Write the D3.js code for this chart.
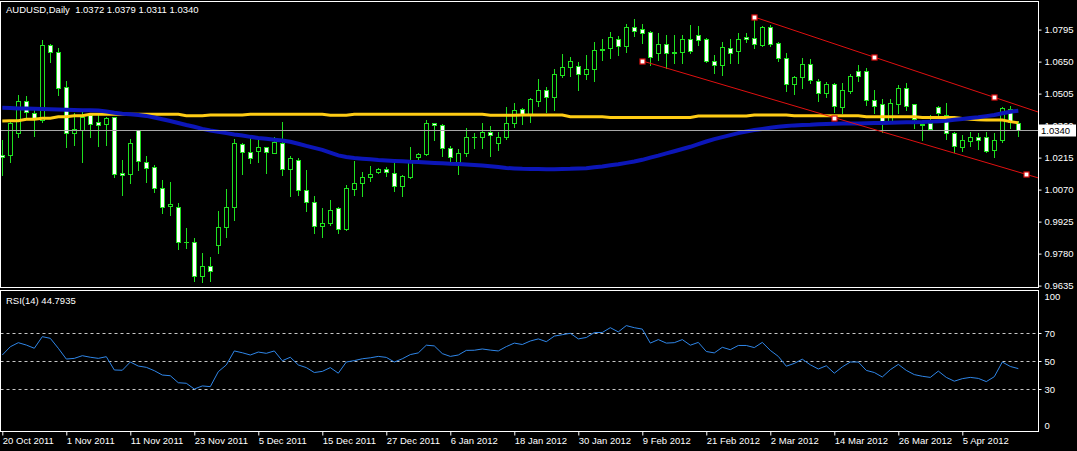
<!DOCTYPE html>
<html><head><meta charset="utf-8">
<script src="https://cdn.jsdelivr.net/npm/d3@7"></script>
<style>
html,body{margin:0;padding:0;background:#000;}
svg{display:block;}
text{font-family:"Liberation Sans",Arial,sans-serif;font-size:9.5px;fill:#fff;}
</style>
</head><body>
<svg id="chart" width="1077" height="451"></svg>
<script>
// ---------------- data ----------------
const symbolTitle = "AUDUSD,Daily  1.0372 1.0379 1.0311 1.0340";
const rsiTitle = "RSI(14) 44.7935";

const openP = [1.0227,1.0227,1.0327,1.0471,1.0417,1.0385,1.0725,1.0694,1.0535,1.0327,
1.0340,1.0408,1.0376,1.0367,1.0399,1.0145,1.0141,1.0340,1.0195,1.0172,
1.0077,0.9996,0.9991,0.9832,0.9832,0.9678,0.9724,0.9819,0.9900,0.9991,
1.0277,1.0240,1.0245,1.0263,1.0236,1.0281,1.0163,1.0204,1.0068,1.0014,
0.9905,0.9919,0.9987,0.9891,1.0073,1.0100,1.0127,1.0150,1.0163,1.0145,
1.0086,1.0127,1.0218,1.0231,1.0372,1.0363,1.0259,1.0195,1.0236,1.0308,
1.0308,1.0331,1.0281,1.0308,1.0372,1.0435,1.0408,1.0471,1.0521,1.0490,
1.0589,1.0626,1.0630,1.0594,1.0616,1.0703,1.0712,1.0752,1.0721,1.0807,
1.0798,1.0784,1.0689,1.0730,1.0689,1.0694,1.0752,1.0771,1.0752,1.0653,
1.0635,1.0712,1.0698,1.0762,1.0757,1.0725,1.0807,1.0734,1.0666,1.0548,
1.0580,1.0639,1.0562,1.0508,1.0548,1.0444,1.0517,1.0607,1.0607,1.0476,
1.0458,1.0381,1.0458,1.0530,1.0458,1.0367,1.0372,1.0444,1.0408,1.0327,
1.0263,1.0290,1.0308,1.0308,1.0250,1.0295,1.0435,1.0372];

const highP = [1.0295,1.0376,1.0499,1.0494,1.0431,1.0748,1.0730,1.0712,1.0562,1.0417,
1.0431,1.0410,1.0408,1.0399,1.0401,1.0204,1.0299,1.0342,1.0222,1.0182,
1.0114,1.0104,1.0009,0.9896,0.9851,0.9783,0.9764,0.9973,1.0073,1.0299,
1.0281,1.0317,1.0295,1.0265,1.0308,1.0376,1.0222,1.0213,1.0159,1.0041,
0.9987,1.0023,0.9989,1.0091,1.0200,1.0150,1.0177,1.0168,1.0172,1.0191,
1.0136,1.0263,1.0236,1.0385,1.0374,1.0365,1.0268,1.0254,1.0349,1.0327,
1.0372,1.0358,1.0331,1.0444,1.0462,1.0440,1.0485,1.0571,1.0535,1.0616,
1.0684,1.0671,1.0648,1.0680,1.0739,1.0752,1.0784,1.0766,1.0820,1.0843,
1.0820,1.0789,1.0780,1.0771,1.0771,1.0771,1.0816,1.0811,1.0757,1.0680,
1.0739,1.0752,1.0780,1.0780,1.0852,1.0811,1.0816,1.0739,1.0689,1.0585,
1.0666,1.0662,1.0571,1.0558,1.0553,1.0553,1.0594,1.0635,1.0621,1.0521,
1.0481,1.0481,1.0544,1.0553,1.0460,1.0372,1.0408,1.0449,1.0462,1.0331,
1.0317,1.0331,1.0327,1.0331,1.0327,1.0444,1.0449,1.0379];

const lowP = [1.0136,1.0195,1.0308,1.0399,1.0313,1.0376,1.0648,1.0499,1.0263,1.0272,
1.0195,1.0308,1.0268,1.0272,1.0127,1.0045,1.0100,1.0159,1.0104,1.0059,
0.9964,0.9955,0.9801,0.9805,0.9656,0.9651,0.9656,0.9783,0.9855,0.9932,
1.0141,1.0191,1.0195,1.0145,1.0234,1.0136,1.0041,1.0045,0.9973,0.9873,
0.9855,0.9910,0.9873,0.9887,1.0045,1.0041,1.0110,1.0145,1.0132,1.0064,
1.0041,1.0123,1.0195,1.0227,1.0295,1.0222,1.0195,1.0141,1.0222,1.0259,
1.0259,1.0222,1.0250,1.0299,1.0354,1.0367,1.0376,1.0449,1.0422,1.0431,
1.0580,1.0585,1.0521,1.0571,1.0562,1.0657,1.0666,1.0680,1.0694,1.0766,
1.0734,1.0635,1.0657,1.0621,1.0644,1.0644,1.0689,1.0725,1.0648,1.0598,
1.0589,1.0644,1.0644,1.0739,1.0712,1.0721,1.0721,1.0653,1.0517,1.0503,
1.0530,1.0553,1.0471,1.0490,1.0422,1.0417,1.0508,1.0562,1.0453,1.0417,
1.0331,1.0376,1.0417,1.0431,1.0349,1.0295,1.0340,1.0399,1.0299,1.0240,
1.0245,1.0268,1.0254,1.0240,1.0218,1.0286,1.0349,1.0311];

const closeP = [1.0218,1.0372,1.0471,1.0422,1.0394,1.0725,1.0694,1.0530,1.0327,1.0345,
1.0399,1.0367,1.0363,1.0394,1.0141,1.0136,1.0281,1.0200,1.0168,1.0077,
0.9991,1.0005,0.9832,0.9834,0.9678,0.9724,0.9701,0.9900,0.9991,1.0281,
1.0240,1.0213,1.0263,1.0240,1.0286,1.0163,1.0213,1.0068,1.0014,0.9905,
0.9919,0.9978,0.9891,1.0077,1.0100,1.0127,1.0141,1.0163,1.0150,1.0086,
1.0132,1.0200,1.0231,1.0372,1.0363,1.0259,1.0218,1.0236,1.0308,1.0310,
1.0331,1.0317,1.0308,1.0372,1.0431,1.0413,1.0481,1.0521,1.0490,1.0594,
1.0626,1.0653,1.0594,1.0616,1.0703,1.0707,1.0762,1.0721,1.0807,1.0789,
1.0780,1.0671,1.0730,1.0689,1.0694,1.0752,1.0698,1.0748,1.0653,1.0635,
1.0716,1.0689,1.0752,1.0752,1.0730,1.0807,1.0730,1.0666,1.0548,1.0580,
1.0639,1.0567,1.0508,1.0548,1.0449,1.0521,1.0585,1.0585,1.0476,1.0449,
1.0381,1.0462,1.0530,1.0449,1.0390,1.0363,1.0345,1.0417,1.0327,1.0268,
1.0295,1.0308,1.0295,1.0245,1.0295,1.0440,1.0376,1.0340];

// slow moving average (yellow)
const maYellow = [1.0381,1.0382,1.0382,1.0389,1.0389,1.0393,1.0393,1.0400,1.0400,1.0405,
1.0405,1.0411,1.0411,1.0411,1.0411,1.0411,1.0411,1.0411,1.0411,1.0411,
1.0411,1.0411,1.0411,1.0405,1.0405,1.0405,1.0408,1.0408,1.0408,1.0408,
1.0408,1.0411,1.0411,1.0411,1.0411,1.0411,1.0411,1.0411,1.0411,1.0411,
1.0411,1.0407,1.0407,1.0407,1.0411,1.0411,1.0411,1.0411,1.0411,1.0411,
1.0411,1.0411,1.0411,1.0411,1.0411,1.0411,1.0411,1.0411,1.0411,1.0411,
1.0411,1.0407,1.0407,1.0407,1.0407,1.0408,1.0408,1.0408,1.0408,1.0408,
1.0408,1.0400,1.0400,1.0400,1.0400,1.0400,1.0397,1.0397,1.0397,1.0397,
1.0397,1.0397,1.0397,1.0397,1.0397,1.0397,1.0397,1.0403,1.0403,1.0403,
1.0403,1.0403,1.0403,1.0403,1.0408,1.0408,1.0408,1.0408,1.0408,1.0405,
1.0405,1.0405,1.0405,1.0405,1.0405,1.0405,1.0405,1.0405,1.0400,1.0400,
1.0400,1.0400,1.0400,1.0400,1.0400,1.0397,1.0397,1.0397,1.0397,1.0397,
1.0392,1.0389,1.0387,1.0385,1.0385,1.0385,1.0378,1.0373];

// faster moving average (blue)
const maBlue = [1.0441,1.0440,1.0438,1.0437,1.0436,1.0435,1.0434,1.0433,1.0432,1.0431,
1.0430,1.0429,1.0428,1.0424,1.0418,1.0414,1.0411,1.0408,1.0404,1.0397,
1.0389,1.0381,1.0372,1.0363,1.0355,1.0345,1.0338,1.0332,1.0326,1.0320,
1.0315,1.0309,1.0304,1.0300,1.0296,1.0292,1.0287,1.0278,1.0268,1.0259,
1.0250,1.0238,1.0225,1.0218,1.0213,1.0210,1.0207,1.0204,1.0202,1.0200,
1.0198,1.0196,1.0195,1.0193,1.0191,1.0189,1.0187,1.0186,1.0184,1.0182,
1.0179,1.0176,1.0172,1.0168,1.0166,1.0164,1.0163,1.0163,1.0162,1.0162,
1.0163,1.0164,1.0166,1.0167,1.0171,1.0175,1.0180,1.0185,1.0191,1.0197,
1.0205,1.0215,1.0224,1.0234,1.0244,1.0254,1.0264,1.0276,1.0288,1.0299,
1.0308,1.0317,1.0326,1.0333,1.0340,1.0345,1.0350,1.0355,1.0358,1.0361,
1.0363,1.0364,1.0366,1.0367,1.0368,1.0369,1.0369,1.0370,1.0371,1.0372,
1.0372,1.0373,1.0374,1.0375,1.0375,1.0376,1.0378,1.0380,1.0382,1.0386,
1.0390,1.0394,1.0398,1.0403,1.0408,1.0416,1.0423,1.0427];

const rsiValues = [54.5,60.4,63.3,61.6,59.3,67.6,66.4,59.3,51.6,52.1,
54.0,52.9,52.1,53.3,43.8,43.6,49.5,46.6,45.7,43.3,
40.2,39.7,34.7,34.3,30.2,32.4,31.9,42.6,47.4,57.4,
56.1,54.5,56.6,55.7,57.4,50.4,52.9,47.4,45.5,42.0,
42.8,45.5,41.5,49.5,50.5,51.8,52.5,53.5,52.8,49.5,
51.8,54.8,56.0,61.5,61.0,55.5,53.5,54.5,57.8,57.9,
58.8,58.0,57.4,60.5,63.0,62.0,64.5,66.0,64.0,68.0,
69.0,70.0,66.0,67.0,70.5,70.6,74.0,71.0,75.5,74.0,
73.0,63.0,65.5,63.0,63.3,65.5,61.5,63.5,57.0,56.0,
60.0,58.3,61.3,61.3,59.8,63.5,57.8,53.5,46.5,48.5,
51.5,47.5,44.5,46.8,41.5,46.0,49.5,49.5,43.5,42.0,
38.8,44.0,47.8,43.5,40.5,39.3,38.5,43.0,38.5,35.8,
37.6,38.5,37.8,35.5,39.0,49.5,46.3,44.79];

const priceTicks = [1.0795,1.0650,1.0505,1.0360,1.0215,1.0070,0.9925,0.9780,0.9635];
const rsiLevels = [70,50,30];
const rsiScaleLabels = [100,70,50,30,0];
const dateTickBars = [0,8,16,24,32,40,48,56,64,72,80,88,96,104,112,120];
const dateLabels = ["20 Oct 2011","1 Nov 2011","11 Nov 2011","23 Nov 2011","5 Dec 2011","15 Dec 2011",
"27 Dec 2011","6 Jan 2012","18 Jan 2012","30 Jan 2012","9 Feb 2012","21 Feb 2012","2 Mar 2012",
"14 Mar 2012","26 Mar 2012","5 Apr 2012"];
const bidPrice = 1.0340;
// trend channel drawn on the chart: [bar, price] anchors and marker bars
const upperChannel = [[94,1.0852],[124,1.0488]];
const upperMarkerBars = [94,109,124];
const lowerChannel = [[80,1.0653],[128,1.0139]];
const lowerMarkerBars = [80,104,128];

// ---------------- layout ----------------
const W = 1077, H = 451;
const plotLeft = 0.5, plotRight = 1038.5;
const mainTop = 1.5, mainBottom = 287.5;
const rsiTop = 290.5, rsiBottom = 431.5;

const svg = d3.select("#chart");
svg.append("rect").attr("width",W).attr("height",H).attr("fill","#000");

const nBars = closeP.length;
const x = d3.scaleLinear().domain([0, nBars-1]).range([2.3, 2.3 + 8*(nBars-1)]);
const yMain = d3.scaleLinear().domain([0.9635, 1.0795]).range([285.6, 29.6]);
const yRsi = d3.scaleLinear().domain([0,100]).range([431.3, 291.3]);
const barRight = x.invert(plotRight);

const defs = svg.append("defs");
defs.append("clipPath").attr("id","clipMain").append("rect")
  .attr("x",plotLeft+0.5).attr("y",mainTop+0.5).attr("width",plotRight-plotLeft-1).attr("height",mainBottom-mainTop-1);
defs.append("clipPath").attr("id","clipRsi").append("rect")
  .attr("x",plotLeft+0.5).attr("y",rsiTop+0.5).attr("width",plotRight-plotLeft-1).attr("height",rsiBottom-rsiTop-1);

const gMain = svg.append("g").attr("clip-path","url(#clipMain)");
const candleColor = "#1fe01f";

// candles
const bars = d3.range(nBars).map(i => ({i, o:openP[i], h:highP[i], l:lowP[i], c:closeP[i]}));
const gC = gMain.append("g");
bars.forEach(b => {
  const cx = Math.round(x(b.i));
  gC.append("line")
    .attr("x1",cx+0.5).attr("x2",cx+0.5)
    .attr("y1",Math.round(yMain(b.h))).attr("y2",Math.round(yMain(b.l))+1)
    .attr("stroke",candleColor).attr("stroke-width",1);
  const top = Math.round(yMain(Math.max(b.o,b.c)));
  const bot = Math.round(yMain(Math.min(b.o,b.c)));
  const bull = b.c >= b.o;
  if (bot - top < 1) {
    gC.append("line").attr("x1",cx-2).attr("x2",cx+3)
      .attr("y1",top+0.5).attr("y2",top+0.5)
      .attr("stroke",candleColor).attr("stroke-width",1);
  } else {
    gC.append("rect").attr("x",cx-2+0.5).attr("y",top+0.5)
      .attr("width",4).attr("height",bot-top)
      .attr("fill", bull ? "#000" : "#fff")
      .attr("stroke",candleColor).attr("stroke-width",1);
  }
});

// moving averages
const lineGen = d3.line().x((d,i)=>x(i)).y(d=>yMain(d));
gMain.append("path").datum(maYellow).attr("d",lineGen)
  .attr("fill","none").attr("stroke","#ffcc14").attr("stroke-width",3);
gMain.append("path").datum(maBlue).attr("d",lineGen)
  .attr("fill","none").attr("stroke","#0c16b8").attr("stroke-width",4);

// bid line
gMain.append("line").attr("x1",plotLeft).attr("x2",plotRight)
  .attr("y1",Math.round(yMain(bidPrice))+0.5).attr("y2",Math.round(yMain(bidPrice))+0.5)
  .attr("stroke","#a8a8a8").attr("stroke-width",1);

// channel lines
function chanVal(ch, bar){
  const [b0,p0] = ch[0], [b1,p1] = ch[1];
  return p0 + (bar-b0)*(p1-p0)/(b1-b0);
}
[[upperChannel,upperMarkerBars],[lowerChannel,lowerMarkerBars]].forEach(([ch,mk]) => {
  const b0 = ch[0][0];
  gMain.append("line")
    .attr("x1",x(b0)).attr("y1",yMain(chanVal(ch,b0)))
    .attr("x2",x(barRight)).attr("y2",yMain(chanVal(ch,barRight)))
    .attr("stroke","#e01010").attr("stroke-width",1);
  mk.forEach(bm => {
    gMain.append("rect")
      .attr("x",Math.round(x(bm))-2).attr("y",Math.round(yMain(chanVal(ch,bm)))-2)
      .attr("width",5).attr("height",5)
      .attr("fill","#fff").attr("stroke","#e01010").attr("stroke-width",1.2);
  });
});

// panel borders
svg.append("rect").attr("x",plotLeft).attr("y",mainTop)
  .attr("width",plotRight-plotLeft).attr("height",mainBottom-mainTop)
  .attr("fill","none").attr("stroke","#fff").attr("stroke-width",1);
svg.append("rect").attr("x",plotLeft).attr("y",rsiTop)
  .attr("width",plotRight-plotLeft).attr("height",rsiBottom-rsiTop)
  .attr("fill","none").attr("stroke","#fff").attr("stroke-width",1);

// right price axis
const axP = svg.append("g").attr("transform",`translate(${plotRight},0)`)
  .call(d3.axisRight(yMain).tickValues(priceTicks).tickFormat(d3.format(".4f")).tickSize(3).tickPadding(3));
axP.select(".domain").remove();
axP.selectAll(".tick line").attr("stroke","#fff");
axP.selectAll(".tick text").attr("fill","#fff").style("font-size","9.5px").attr("font-family",null);

// bid price label
const bidY = Math.round(yMain(bidPrice));
svg.append("rect").attr("x",1039).attr("y",bidY-5.5).attr("width",37).attr("height",12)
  .attr("fill","#fff");
svg.append("text").attr("x",1041).attr("y",bidY+0.5).attr("dy","0.35em")
  .style("fill","#000").text(d3.format(".4f")(bidPrice));

// title
svg.append("text").attr("x",6).attr("y",13).style("white-space","pre").text(symbolTitle);

// RSI panel
const gR = svg.append("g").attr("clip-path","url(#clipRsi)");
rsiLevels.forEach(v => {
  gR.append("line").attr("x1",plotLeft).attr("x2",plotRight)
    .attr("y1",Math.round(yRsi(v))+0.5).attr("y2",Math.round(yRsi(v))+0.5)
    .attr("stroke","#c8c8c8").attr("stroke-width",1).attr("stroke-dasharray","3,3");
});
gR.append("path").datum(rsiValues)
  .attr("d", d3.line().x((d,i)=>x(i)).y(d=>yRsi(d)))
  .attr("fill","none").attr("stroke","#2f86e8").attr("stroke-width",1);
svg.append("text").attr("x",6).attr("y",304).text(rsiTitle);

// RSI scale
rsiScaleLabels.forEach(v => {
  const yy = yRsi(v);
  const ly = Math.max(rsiTop+6, Math.min(rsiBottom-6, yy));
  if (v !== 100 && v !== 0) {
    svg.append("line").attr("x1",plotRight).attr("x2",plotRight+3)
      .attr("y1",Math.round(yy)+0.5).attr("y2",Math.round(yy)+0.5).attr("stroke","#fff");
  }
  svg.append("text").attr("x",plotRight+6).attr("y",ly).attr("dy","0.35em").text(v);
});

// bottom time axis
const axX = svg.append("g").attr("transform",`translate(0,${rsiBottom})`)
  .call(d3.axisBottom(x).tickValues(dateTickBars).tickFormat((d,i)=>dateLabels[i]).tickSize(4).tickPadding(2));
axX.select(".domain").remove();
axX.selectAll(".tick line").attr("stroke","#fff");
axX.selectAll(".tick text").attr("fill","#fff").attr("text-anchor","start").attr("dx","0")
  .style("font-size","9.5px").attr("font-family",null);
</script>
</body></html>
